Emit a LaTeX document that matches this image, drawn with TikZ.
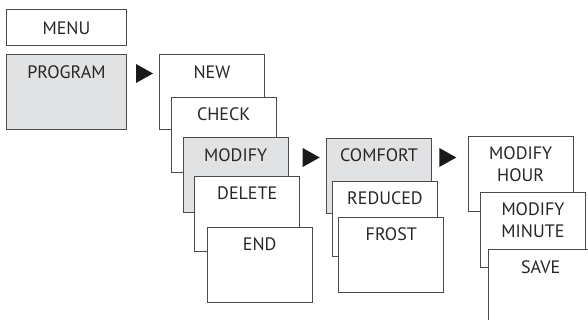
\documentclass[tikz,border=0pt]{standalone}
\usepackage{fontspec}
\setmainfont{PT Sans}
\definecolor{edge}{HTML}{4A4A4A}
\definecolor{sel}{HTML}{E1E2E4}
\begin{document}
\begin{tikzpicture}[x=1pt,y=-1pt,
  box/.style={draw=edge,line width=0.9pt,fill=white,rectangle,inner sep=0pt,
    minimum width=105pt,minimum height=75pt,anchor=north west},
  selbox/.style={box,fill=sel},
  lbl/.style={font=\fontsize{18}{22.7}\selectfont,inner sep=0pt,anchor=base,align=center,text=black!85},
  tri/.style={fill=black!90}]
\useasboundingbox (0,0) rectangle (588,320);
\clip (0,0) rectangle (588,320);
% menu column
\node[box,minimum width=120pt,minimum height=35.7pt] (menu) at (6,9.3) {};
\node[lbl] (tmenu) at ([yshift=-25.7pt]menu.north) {MENU};
\node[selbox,minimum width=120pt] (program) at (6,54.3) {};
\node[lbl] (tprogram) at ([yshift=-24pt]program.north) {PROGRAM};
% program submenu
\node[box] (new) at (159,54.3) {};
\node[lbl] (tnew) at ([yshift=-24pt]new.north) {NEW};
\node[box] (check) at (170.7,96.7) {};
\node[lbl] (tcheck) at ([yshift=-24pt]check.north) {CHECK};
\node[selbox] (modify) at (182.7,137.3) {};
\node[lbl] (tmodify) at ([yshift=-24pt]modify.north) {MODIFY};
\node[box] (delete) at (194.3,176) {};
\node[lbl] (tdelete) at ([yshift=-24pt]delete.north) {DELETE};
\node[box] (end) at (206.7,226.7) {};
\node[lbl] (tend) at ([yshift=-24pt]end.north) {END};
% modify submenu
\node[selbox] (comfort) at (326,137.7) {};
\node[lbl] (tcomfort) at ([yshift=-24pt]comfort.north) {COMFORT};
\node[box] (reduced) at (332,180.7) {};
\node[lbl] (treduced) at ([yshift=-24pt]reduced.north) {REDUCED};
\node[box] (frost) at (338.3,216.7) {};
\node[lbl] (tfrost) at ([yshift=-24pt]frost.north) {FROST};
% comfort submenu
\node[box] (hour) at (467.7,136) {};
\node[lbl] (thour) at ([yshift=-46pt]hour.north) {MODIFY\\HOUR};
\node[box] (minute) at (480,191.7) {};
\node[lbl] (tminute) at ([yshift=-46pt]minute.north) {MODIFY\\MINUTE};
\node[box] (save) at (487.7,249) {};
\node[lbl] (tsave) at ([yshift=-24pt]save.north) {SAVE};
% arrows
\coordinate (a1) at (136,73.5);
\coordinate (a2) at (302.7,157.5);
\coordinate (a3) at (439.3,157.5);
\foreach \c in {a1,a2,a3}{
  \fill[tri] ([yshift=-9.5pt]\c) -- ([xshift=17pt]\c) -- ([yshift=9.5pt]\c) -- cycle;
}
\end{tikzpicture}
\end{document}
